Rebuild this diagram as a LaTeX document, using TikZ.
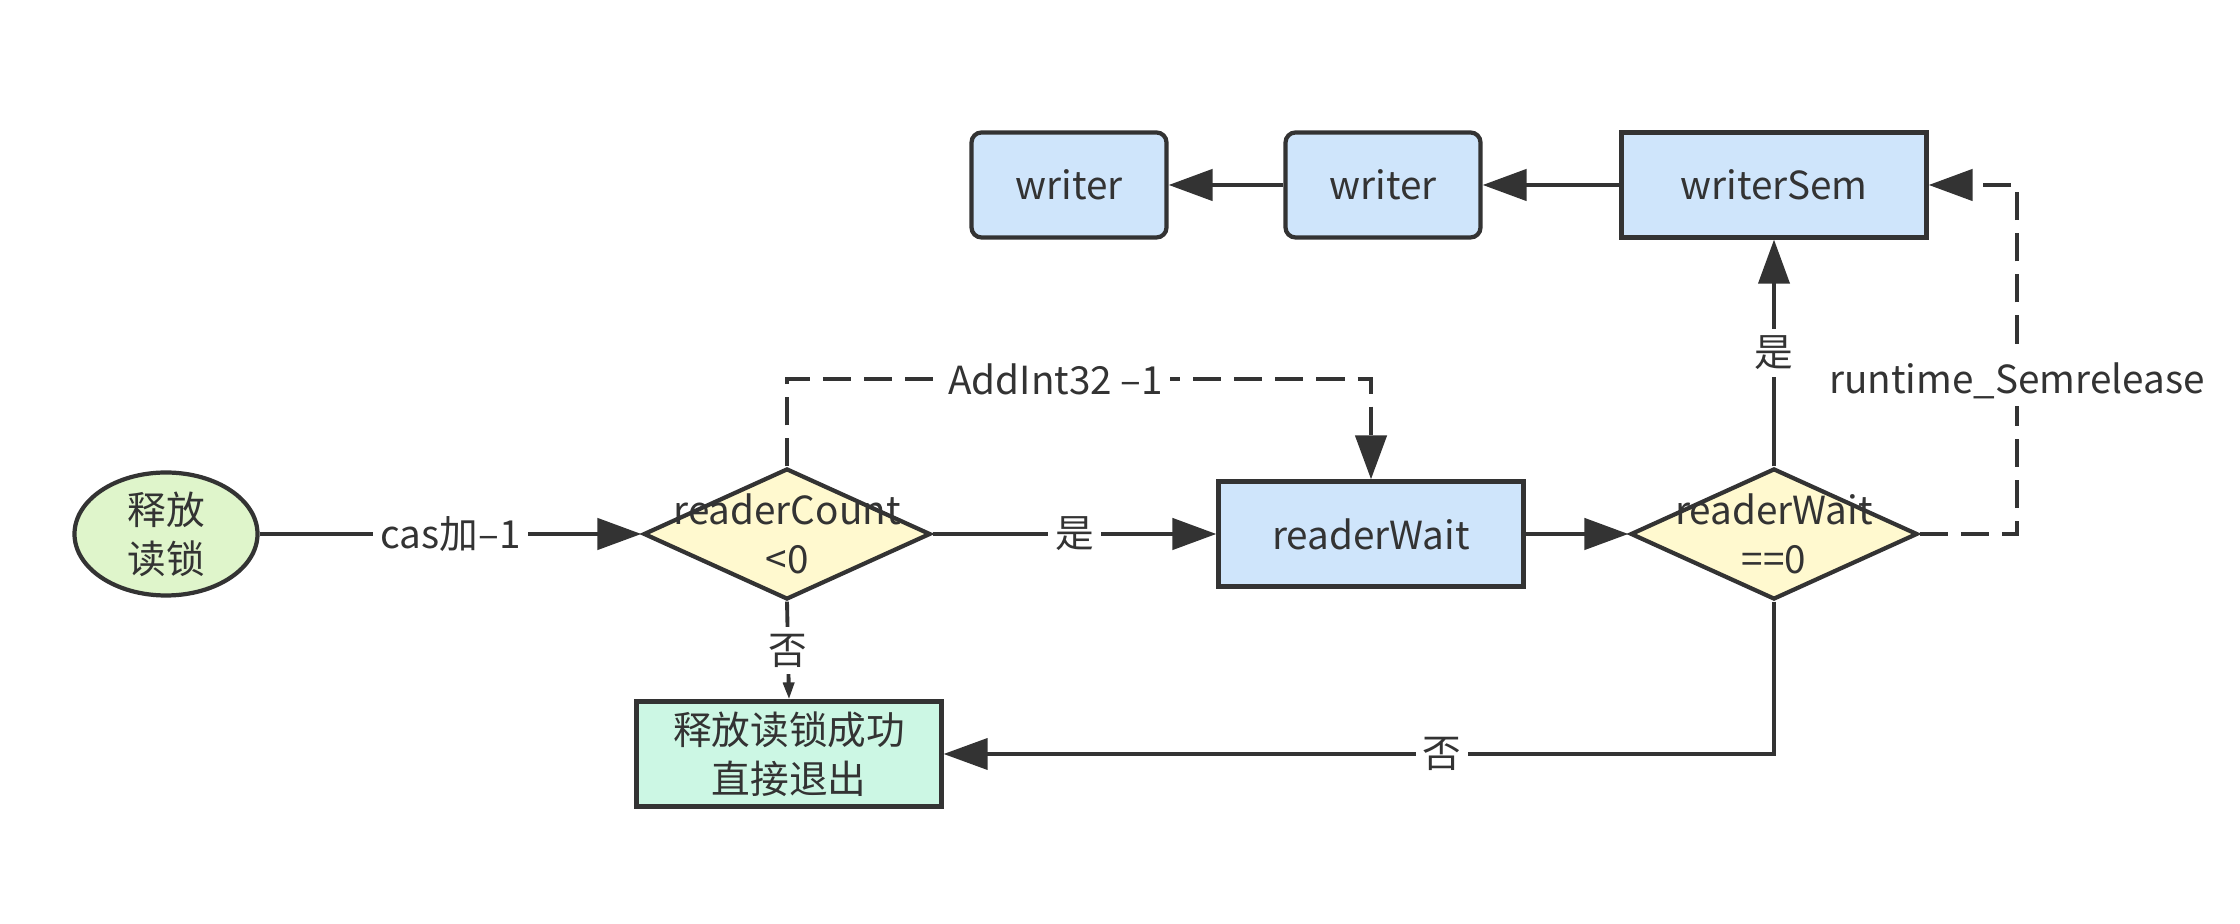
\documentclass[tikz,border=0pt]{standalone}
\usepackage{fontspec}
\setmainfont{Noto Sans CJK SC}
\usepackage{xcolor}
\usepackage{tikz}
\usetikzlibrary{shapes.geometric, arrows.meta}

\definecolor{linegray}{HTML}{333333}
\definecolor{startgreen}{HTML}{DFF5CB}
\definecolor{askyellow}{HTML}{FFF9CF}
\definecolor{semblue}{HTML}{CFE5FB}
\definecolor{donegreen}{HTML}{CCF7E4}

\begin{document}
\begin{tikzpicture}[
	font=\fontsize{11pt}{14pt}\selectfont, text=linegray,
	box/.style={draw=linegray, line width=1.2pt, fill=semblue, minimum width=3.05cm, minimum height=1.05cm, inner sep=0pt, align=center},
	waiter/.style={box, rounded corners=1mm, minimum width=1.95cm},
	ask/.style={diamond, draw=linegray, line width=1.2pt, fill=askyellow, minimum width=2.87cm, minimum height=1.31cm, inner sep=0pt},
	arr/.style={draw=linegray, line width=1.3pt, -{Triangle[length=4.4mm, width=3.1mm]}},
	thinarr/.style={draw=linegray, line width=1.1pt, -{Triangle[length=4.4mm, width=3.1mm]}},
	dasharr/.style={arr, dash pattern=on 8pt off 3.7pt},
	lbl/.style={fill=white, inner sep=2pt}
]

\useasboundingbox (0,0) rectangle (22.4,9.24);

\node[ellipse, draw=linegray, line width=1.2pt, fill=startgreen, minimum width=1.83cm, minimum height=1.23cm, inner sep=0pt, align=center] (rel) at (1.66,3.90) {释放\\读锁};
\node[ask, label={[align=center]center:readerCount\\<0}] (cnt) at (7.87,3.90) {};
\node[box] (rw) at (13.71,3.90) {readerWait};
\node[ask, label={[align=center]center:readerWait\\==0}] (zero) at (17.74,3.90) {};
\node[box, fill=donegreen] (done) at (7.89,1.70) {释放读锁成功\\直接退出};

\node[box] (ws) at (17.74,7.39) {writerSem};
\node[waiter] (w2) at (13.83,7.39) {writer};
\node[waiter] (w1) at (10.69,7.39) {writer};

\coordinate (add) at (7.87,5.45);
\coordinate (sem) at (20.17,7.39);

\draw[arr] (rel) -- node[lbl] {cas加–1} (cnt);
\draw[arr] (cnt) -- node[lbl] {是} (rw);
\draw[arr] (rw) -- (zero);
\draw[thinarr] (zero) -- node[lbl] {是} (ws);

\foreach \a/\b in {ws/w2, w2/w1}{
	\draw[arr] (\a) -- (\b);
}

\draw[dasharr] (cnt.north) -- (add) -| node[lbl, pos=0.23] {AddInt32 –1} (rw.north);
\draw[dasharr] (zero.east) -| node[lbl, pos=0.72] {runtime\_Semrelease} (sem) -- (ws.east);

\draw[draw=linegray, line width=1.1pt, -{Triangle[length=1.7mm, width=1.1mm]}] (cnt.south) -- node[lbl] {否} (done.north);
\draw[thinarr] (zero.south) |- node[lbl, pos=0.7] {否} (done.east);

\end{tikzpicture}
\end{document}
